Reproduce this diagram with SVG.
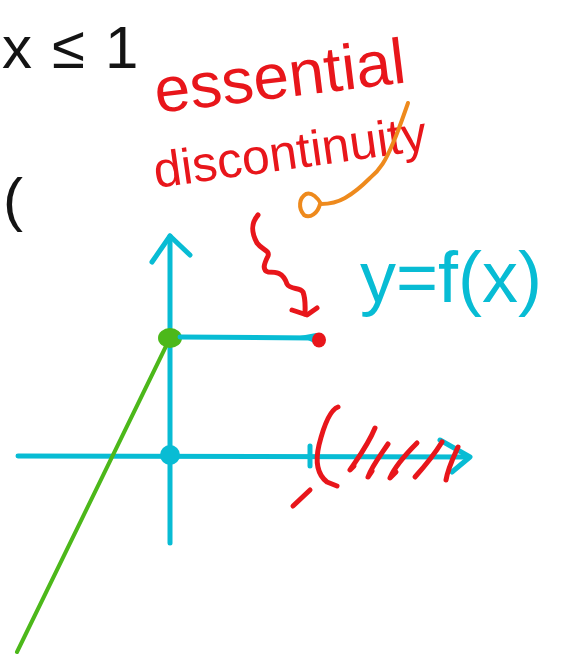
<svg xmlns="http://www.w3.org/2000/svg" width="563" height="657" viewBox="0 0 563 657">
<style>
.ink{fill:none;stroke-linecap:round;stroke-linejoin:round}
.cy{stroke:#08BCD4;stroke-width:5}
.rd{stroke:#E8161B;stroke-width:5}
.gr{stroke:#4CB81A;stroke-width:4}
.or{stroke:#EE8A1D;stroke-width:4}
.hand{font-family:"Liberation Sans","DejaVu Sans",sans-serif}
</style>
<rect width="563" height="657" fill="#fff"/>
<g id="condition">
<text class="hand" font-size="60" fill="#141414" y="68"><tspan x="2">x</tspan><tspan x="52">≤</tspan><tspan x="105">1</tspan></text>
</g>
<g id="paren-black">
<text class="hand" font-size="60" fill="#141414" x="3" y="220">(</text>
</g>
<g id="label-essential">
<text class="hand" font-size="64" fill="#E8161B" x="157" y="113" transform="rotate(-7 157 113)">essential</text>
<text class="hand" font-size="50" fill="#E8161B" x="156" y="188" transform="rotate(-8 156 188)">discontinuity</text>
</g>
<g id="label-function">
<text class="hand" font-size="72" fill="#08BCD4" x="360" y="302">y=f(x)</text>
</g>
<g id="y-axis">
<path class="ink cy" d="M170,236 L170,543"/>
<path class="ink cy" d="M152,262 L170,236 L190,255"/>
</g>
<g id="x-axis">
<path class="ink cy" d="M18,456 L468,457"/>
<path class="ink cy" d="M440,440 L470,457 L452,472"/>
<path class="ink cy" d="M310,446 L310,466" stroke-width="6"/>
<circle cx="170" cy="455" r="10" fill="#08BCD4"/>
</g>
<g id="graph-left">
<path class="ink gr" d="M170,338 L17,652"/>
<ellipse cx="170" cy="338" rx="12" ry="10" fill="#4CB81A"/>
</g>
<g id="graph-right">
<path class="ink cy" d="M180,337 L312,338"/>
<path d="M300,336 L316,333 L316,344 Z" fill="#08BCD4"/>
<ellipse cx="319" cy="340" rx="7" ry="7.5" fill="#E8161B"/>
</g>
<g id="open-interval">
<path class="ink rd" d="M338,407 C330,410 324,425 319,445 C315,462 318,475 327,482 L337,486"/>
<path class="ink rd" d="M293,506 L310,490"/>
<path class="ink rd" d="M375,428 C368,445 358,458 350,470 L354,466"/>
<path class="ink rd" d="M388,444 C380,456 372,466 368,477 L372,471"/>
<path class="ink rd" d="M417,443 C405,455 395,466 390,478 L396,472"/>
<path class="ink rd" d="M442,442 C434,455 424,467 415,477"/>
<path class="ink rd" d="M458,447 C453,458 448,468 446,480"/>
</g>
<g id="connectors">
<path class="ink rd" d="M258,215 C252,222 250,230 257,243 C262,250 270,250 268,256 C264,264 262,270 268,272 C276,272 283,272 287,284 C290,290 300,287 303,292 C306,300 305,308 305,314"/>
<path class="ink rd" d="M292,310 L307,315 L317,308"/>
<path class="ink or" d="M408,103 C402,120 398,132 393,143 C386,160 380,170 370,178 C360,188 352,194 345,198 C338,202 330,204 321,204 C318,198 312,192 306,194 C299,198 298,208 304,215 C310,219 318,213 320,204"/>
</g>
</svg>
